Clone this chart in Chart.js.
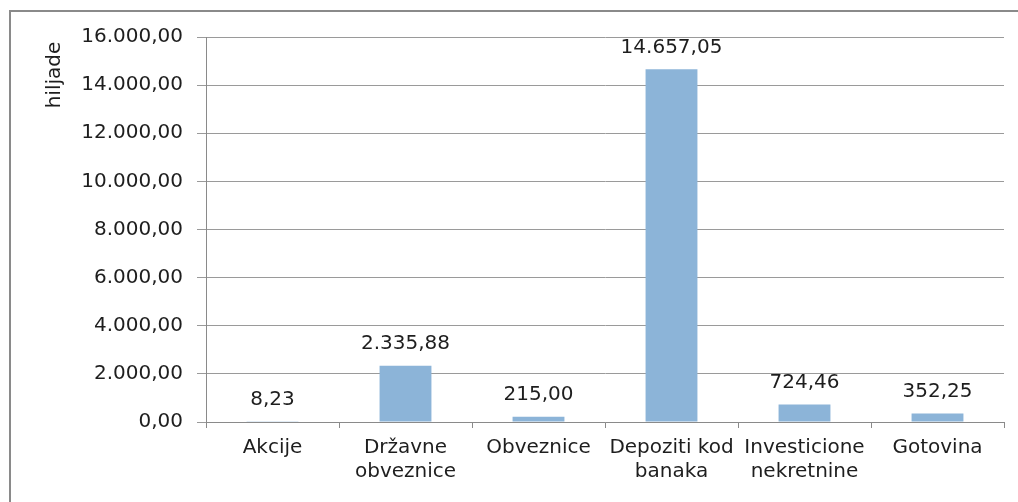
<!DOCTYPE html>
<html>
<head>
<meta charset="utf-8">
<script src="https://cdn.jsdelivr.net/npm/chart.js@4/dist/chart.umd.min.js"></script>
<style>
  html, body { margin: 0; padding: 0; background: #fff; overflow: hidden; }
  #wrap { width: 1018px; height: 502px; position: relative; }
</style>
</head>
<body>
<div id="wrap"><canvas id="c" width="1018" height="502"></canvas></div>
<script>
const categories = [["Akcije"], ["Državne", "obveznice"], ["Obveznice"], ["Depoziti kod", "banaka"], ["Investicione", "nekretnine"], ["Gotovina"]];
const values = [8.23, 2335.88, 215.00, 14657.05, 724.46, 352.25];
const yTicks = [0, 2000, 4000, 6000, 8000, 10000, 12000, 14000, 16000];
const yTitle = "hiljade";

const FONT = "DejaVu Sans";
const TEXT = "#1e1e1e";
function fmt(v) {
  const parts = v.toFixed(2).split(".");
  const intPart = parts[0].replace(/\B(?=(\d{3})+(?!\d))/g, ".");
  return intPart + "," + parts[1];
}

const framePlugin = {
  id: "frame",
  beforeDraw(chart) {
    const ctx = chart.ctx;
    ctx.save();
    ctx.fillStyle = "#fff";
    ctx.fillRect(0, 0, chart.width, chart.height);
    ctx.strokeStyle = "#8a8a8a";
    ctx.lineWidth = 2;
    ctx.beginPath();
    ctx.moveTo(10, chart.height + 5);
    ctx.lineTo(10, 11);
    ctx.lineTo(chart.width + 5, 11);
    ctx.stroke();
    ctx.restore();
  },
  afterDraw(chart) {
    const ctx = chart.ctx;
    ctx.save();
    ctx.font = "20px '" + FONT + "'";
    ctx.fillStyle = TEXT;
    ctx.textAlign = "center";
    ctx.textBaseline = "middle";
    ctx.translate(55, 75);
    ctx.rotate(-Math.PI / 2);
    ctx.fillText(yTitle, 0, 0);
    ctx.restore();
  }
};

const labelPlugin = {
  id: "valueLabels",
  afterDatasetsDraw(chart) {
    const ctx = chart.ctx;
    const meta = chart.getDatasetMeta(0);
    ctx.save();
    ctx.font = "20px '" + FONT + "'";
    ctx.fillStyle = TEXT;
    ctx.textAlign = "center";
    ctx.textBaseline = "middle";
    meta.data.forEach((bar, i) => {
      ctx.fillText(fmt(values[i]), bar.x, bar.y - 22);
    });
    ctx.restore();
  }
};

new Chart(document.getElementById("c"), {
  type: "bar",
  data: {
    labels: categories,
    datasets: [{
      data: values,
      backgroundColor: "#8cb4d8",
      borderWidth: 0,
      categoryPercentage: 1.0,
      barPercentage: 0.39
    }]
  },
  options: {
    responsive: false,
    animation: false,
    layout: { padding: { left: 0, right: 14, top: 37, bottom: 0 } },
    plugins: { legend: { display: false }, tooltip: { enabled: false } },
    scales: {
      x: {
        grid: { display: true, drawOnChartArea: false, drawTicks: true, tickLength: 6, offset: true, color: "#8a8a8a" },
        border: { display: true, color: "#8a8a8a" },
        ticks: { color: TEXT, font: { family: FONT, size: 20 }, padding: 8, maxRotation: 0, autoSkip: false },
        afterFit(scale) { scale.height = 80; }
      },
      y: {
        min: 0,
        max: 16000,
        afterBuildTicks(scale) { scale.ticks = yTicks.map(v => ({ value: v })); },
        grid: { color: "#9a9a9a", drawTicks: true, tickLength: 9 },
        border: { display: true, color: "#8a8a8a" },
        ticks: {
          color: TEXT,
          font: { family: FONT, size: 20 },
          padding: 14,
          callback: (v) => fmt(v)
        },
        afterFit(scale) { scale.width = 206; }
      }
    }
  },
  plugins: [framePlugin, labelPlugin]
});
</script>
</body>
</html>
